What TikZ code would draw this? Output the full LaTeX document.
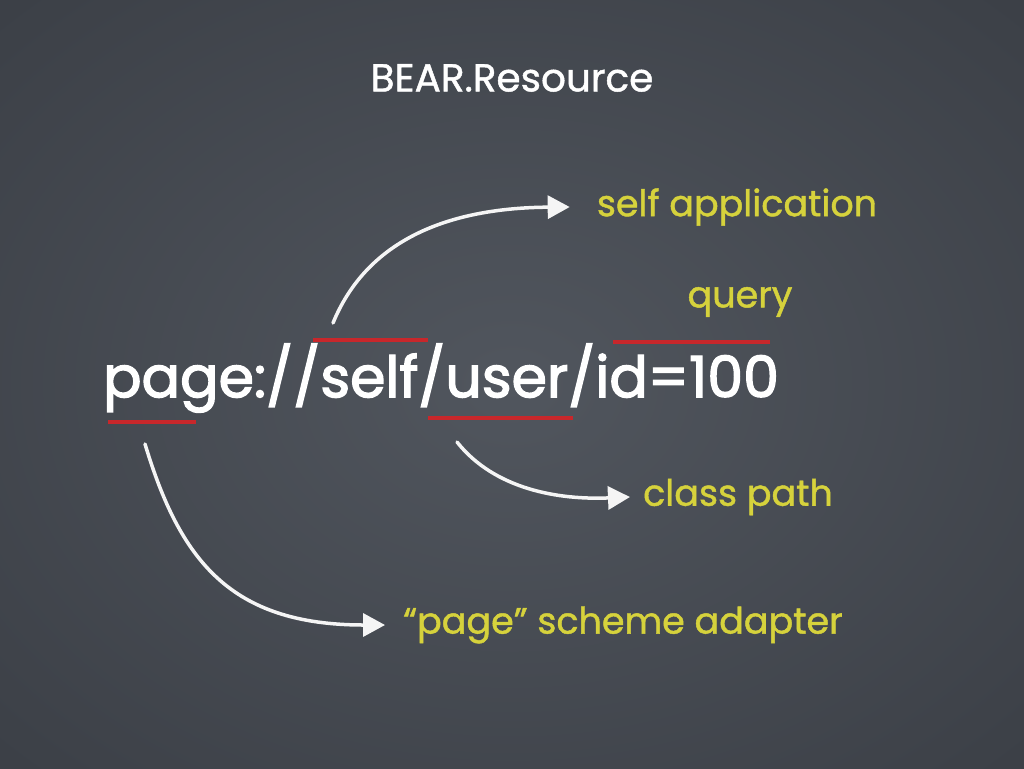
\documentclass[tikz,border=0pt]{standalone}
\usepackage{fontspec}
\setmainfont{Poppins}[FakeBold=1.2]
\newfontfamily\urifont{Poppins}[FakeBold=2.4]
\usetikzlibrary{arrows.meta}
\definecolor{board}{HTML}{51565E}
\definecolor{boardedge}{HTML}{3C4047}
\definecolor{chalkyellow}{HTML}{D6D23C}
\definecolor{chalkred}{HTML}{C8272B}
\begin{document}
\begin{tikzpicture}[x=1pt,y=-1pt,
  title/.style={text=white,font=\fontsize{39}{39}\selectfont,inner sep=0pt},
  uri/.style={text=white,font=\urifont\fontsize{57}{57}\selectfont,inner sep=0pt},
  note/.style={text=chalkyellow,font=\fontsize{36.5}{36.5}\selectfont,inner sep=0pt},
  underline/.style={draw=chalkred,line width=4.5pt},
  chalk/.style={draw=white!92!gray,line width=3.5pt,line cap=round,
    -{Triangle[length=22pt,width=23pt]}}]
  \useasboundingbox (0,0) rectangle (1024,768);
  % chalkboard, softly darker towards the edges
  \begin{scope}
    \clip (0,0) rectangle (1024,768);
    \shade[inner color=board,outer color=boardedge] (-200,-150) rectangle (1224,918);
  \end{scope}

  % texts
  \node[title] (title) at (512,78) {BEAR.Resource};
  \node[uri] (uri) at (441,378) {page://self/user/id=100};
  \node[note] (selfapp) at (737,207) {self application};
  \node[note] (query) at (740,302) {query};
  \node[note] (classpath) at (738,497) {class path};
  \node[note] (adapter) at (623,625) {“page” scheme adapter};

  % underlines
  \draw[underline] (313,340) -- (428,340);
  \draw[underline] (613,342) -- (770,342);
  \draw[underline] (108,422) -- (196,422);
  \draw[underline] (428,418) -- (573,418);

  % arrow start points
  \coordinate (fromself) at (333,323);
  \coordinate (fromuser) at (457,442);
  \coordinate (frompage) at (145,444);

  % arrows
  \draw[chalk] (fromself) .. controls (365,245) and (440,208) .. ([xshift=-27pt]selfapp.west);
  \draw[chalk] (fromuser) .. controls (495,490) and (560,500) .. ([xshift=-13pt]classpath.west);
  \draw[chalk] (frompage) .. controls (180,560) and (230,625) .. ([xshift=-18pt]adapter.west);
\end{tikzpicture}
\end{document}
